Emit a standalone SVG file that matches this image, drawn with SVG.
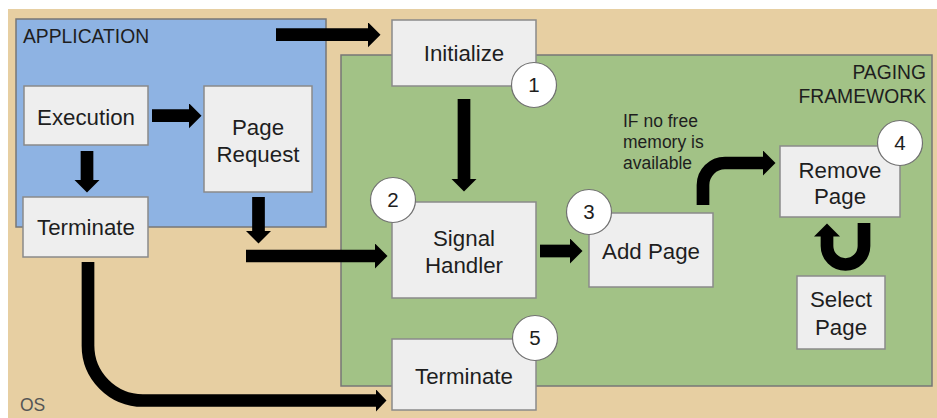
<svg xmlns="http://www.w3.org/2000/svg" width="937" height="418" viewBox="0 0 937 418">
<style>
.box{fill:#eeeeee;stroke:#8a8a8a;stroke-width:1.5}
.lbl{font-family:"Liberation Sans",Arial,sans-serif;font-size:22.3px;fill:#1e1e1e;text-anchor:middle}
.num{font-family:"Liberation Sans",Arial,sans-serif;font-size:20.5px;fill:#1e1e1e;text-anchor:middle}
.badge{fill:#ffffff;stroke:#707070;stroke-width:1.2}
.title{font-family:"Liberation Sans",Arial,sans-serif;font-size:19.3px;fill:#1e1e1e}
.note{font-family:"Liberation Sans",Arial,sans-serif;font-size:17.5px;fill:#1e1e1e}
.arr{fill:none;stroke:#000;stroke-width:12.7;stroke-linejoin:miter}
</style>
<defs>
<marker id="head" markerUnits="userSpaceOnUse" markerWidth="14" markerHeight="26" viewBox="0 0 14 26" refX="0.5" refY="13" orient="auto">
<path d="M0,0 L13,13 L0,26 Z" fill="#000"/>
</marker>
<marker id="headS" markerUnits="userSpaceOnUse" markerWidth="12" markerHeight="23" viewBox="0 0 12 23" refX="0.5" refY="11.5" orient="auto">
<path d="M0,0 L11,11.5 L0,23 Z" fill="#000"/>
</marker>
</defs>
<rect x="8" y="9" width="929" height="409" fill="#e7cfa2"/>
<g id="os">
<text x="20" y="411" font-family="'Liberation Sans',Arial,sans-serif" font-size="17.5px" fill="#555">OS</text>
</g>
<g id="application">
<rect x="16" y="19" width="310" height="208" fill="#8eb3e3" stroke="#777" stroke-width="1.5"/>
<text class="title" x="23" y="43">APPLICATION</text>
</g>
<g id="paging-framework">
<rect x="341" y="55" width="591" height="331" fill="#a2c286" stroke="#777" stroke-width="1.5"/>
<text class="title" x="926" y="79" text-anchor="end">PAGING</text>
<text class="title" x="926" y="103" text-anchor="end">FRAMEWORK</text>
</g>
<g id="connectors">
<path class="arr" d="M276 34.7 H368" marker-end="url(#head)"/>
<path class="arr" d="M152 115.7 H189" marker-end="url(#head)"/>
<path class="arr" d="M87 151 V180" marker-end="url(#head)"/>
<path class="arr" d="M258.5 197 V231" marker-end="url(#head)"/>
<path class="arr" d="M246 256 H375" marker-end="url(#head)"/>
<path class="arr" d="M464 99 V179" marker-end="url(#head)"/>
<path class="arr" d="M540 251 H570" marker-end="url(#head)"/>
<path class="arr" d="M703 205 V185 A22 22 0 0 1 725 163 H763" stroke-width="14" marker-end="url(#head)"/>
<path class="arr" d="M864 223 V246 A18.5 18.5 0 0 1 827 246 V236" marker-end="url(#head)"/>
<path class="arr" d="M88 262 V345 A55 55 0 0 0 143 400.5 H376" stroke-width="14" marker-end="url(#headS)"/>
</g>
<g id="execution">
<rect class="box" x="24" y="86" width="124" height="59"/>
<text class="lbl" x="86" y="125">Execution</text>
</g>
<g id="page-request">
<rect class="box" x="204" y="86" width="108" height="106"/>
<text class="lbl" x="258" y="135">Page</text>
<text class="lbl" x="258" y="162">Request</text>
</g>
<g id="terminate-app">
<rect class="box" x="23" y="197" width="125" height="60"/>
<text class="lbl" x="86" y="235">Terminate</text>
</g>
<g id="initialize">
<rect class="box" x="392" y="20" width="144" height="66"/>
<text class="lbl" x="464" y="61">Initialize</text>
<circle class="badge" cx="534" cy="85" r="22.5"/>
<text class="num" x="534" y="92">1</text>
</g>
<g id="signal-handler">
<rect class="box" x="392" y="202" width="144" height="96"/>
<text class="lbl" x="464" y="246">Signal</text>
<text class="lbl" x="464" y="273">Handler</text>
<circle class="badge" cx="393" cy="200" r="22.5"/>
<text class="num" x="393" y="207">2</text>
</g>
<g id="add-page">
<rect class="box" x="589" y="213" width="124" height="74"/>
<text class="lbl" x="651" y="259">Add Page</text>
<circle class="badge" cx="589" cy="212" r="22.5"/>
<text class="num" x="589" y="219">3</text>
</g>
<g id="condition">
<text class="note" x="623" y="127">IF no free</text>
<text class="note" x="623" y="148">memory is</text>
<text class="note" x="623" y="169">available</text>
</g>
<g id="remove-page">
<rect class="box" x="780" y="146" width="120" height="71"/>
<text class="lbl" x="840" y="178">Remove</text>
<text class="lbl" x="840" y="204">Page</text>
<circle class="badge" cx="900" cy="143" r="22.5"/>
<text class="num" x="900" y="150">4</text>
</g>
<g id="select-page">
<rect class="box" x="797" y="276" width="88" height="73"/>
<text class="lbl" x="841" y="307">Select</text>
<text class="lbl" x="841" y="335">Page</text>
</g>
<g id="terminate-framework">
<rect class="box" x="392" y="339" width="144" height="71"/>
<text class="lbl" x="464" y="384">Terminate</text>
<circle class="badge" cx="535" cy="338" r="22.5"/>
<text class="num" x="535" y="345">5</text>
</g>
</svg>
